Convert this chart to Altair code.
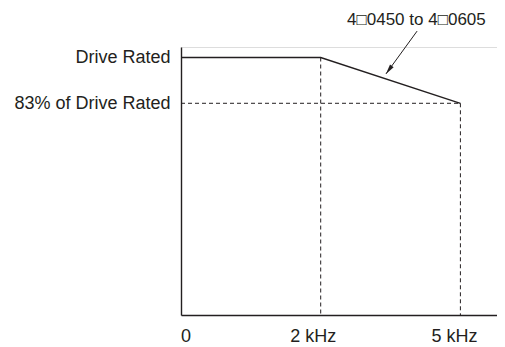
import altair as alt
import pandas as pd

# ---- data ----
x_pos = [0, 1, 2]
x_labels = ["0", "2 kHz", "5 kHz"]
x_label_shift = [4.5, -8, -6.5]
y_pos = [100, 83]
y_labels = ["Drive Rated", "83% of Drive Rated"]
curve_x = [0, 1, 2]
curve_y = [100, 100, 83]
annot_text = "4\u25a10450 to 4\u25a10605"
annot_x, annot_y = 1.685, 113.9
arrow_x, arrow_y = [1.69, 1.467], [109.8, 93.9]

FONT = "Liberation Sans, Arial, Noto Sans CJK SC, DejaVu Sans"
INK = "#231f20"
Y_MIN, Y_MAX = 4.4, 103.9
X_MAX = 2.262

x_expr = " : ".join(f"datum.value == {p} ? '{l}'" for p, l in zip(x_pos, x_labels)) + " : ''"
x_off = " : ".join(f"datum.value == {p} ? {o}" for p, o in zip(x_pos, x_label_shift)) + " : 0"
y_expr = " : ".join(f"datum.value == {p} ? '{l}'" for p, l in zip(y_pos, y_labels)) + " : ''"

xs = alt.Scale(domain=[0, X_MAX], nice=False, zero=False)
ys = alt.Scale(domain=[Y_MIN, Y_MAX], nice=False, zero=False)

curve = pd.DataFrame({"x": curve_x, "y": curve_y})

base = alt.Chart(curve).mark_line(color=INK, strokeWidth=1.4).encode(
    x=alt.X("x:Q", scale=xs, axis=alt.Axis(values=x_pos, labelExpr=x_expr, title=None, grid=False,
            ticks=False, domainColor=INK, domainWidth=1.4, labelFont=FONT, labelFontSize=18,
            labelColor=INK, labelPadding=12, labelFlush=False, labelOffset=alt.expr(x_off))),
    y=alt.Y("y:Q", scale=ys, axis=alt.Axis(values=y_pos, labelExpr=y_expr, title=None, grid=False,
            ticks=False, domainColor=INK, domainWidth=1.4, labelFont=FONT, labelFontSize=18,
            labelColor=INK, labelPadding=11)),
)

dash = pd.DataFrame({
    "x": [curve_x[0], curve_x[1], curve_x[2]],
    "x2": [curve_x[2], curve_x[1], curve_x[2]],
    "y": [curve_y[2], curve_y[1], curve_y[2]],
    "y2": [curve_y[2], Y_MIN, Y_MIN],
})
dashed = alt.Chart(dash).mark_rule(color=INK, strokeWidth=1, strokeDash=[4, 3]).encode(
    x=alt.X("x:Q", scale=xs), x2="x2:Q", y=alt.Y("y:Q", scale=ys), y2="y2:Q")

arr = pd.DataFrame({"x": [arrow_x[0]], "y": [arrow_y[0]], "x2": [arrow_x[1]], "y2": [arrow_y[1]]})
arrow_line = alt.Chart(arr).mark_rule(color=INK, strokeWidth=1).encode(
    x=alt.X("x:Q", scale=xs), x2="x2:Q", y=alt.Y("y:Q", scale=ys), y2="y2:Q")
head = alt.Chart(pd.DataFrame({"x": [arrow_x[1]], "y": [arrow_y[1]]})).mark_point(
    shape="M0,0L-0.45,2L0.45,2Z", filled=True, color=INK, opacity=1, size=100, angle=216).encode(
    x=alt.X("x:Q", scale=xs), y=alt.Y("y:Q", scale=ys))

label = alt.Chart(pd.DataFrame({"x": [annot_x], "y": [annot_y], "t": [annot_text]})).mark_text(
    font=FONT, fontSize=17, color=INK, align="center", baseline="middle").encode(
    x=alt.X("x:Q", scale=xs), y=alt.Y("y:Q", scale=ys), text="t:N")

chart = alt.layer(dashed, base, arrow_line, head, label).properties(
    width=316, height=268,
    autosize=alt.AutoSizeParams(type="none"),
    padding={"left": 173, "top": 39, "right": 0, "bottom": 36},
).configure_view(stroke=None).configure(background="white")

chart.save("out.html", embed_options={"renderer": "svg", "actions": False})
